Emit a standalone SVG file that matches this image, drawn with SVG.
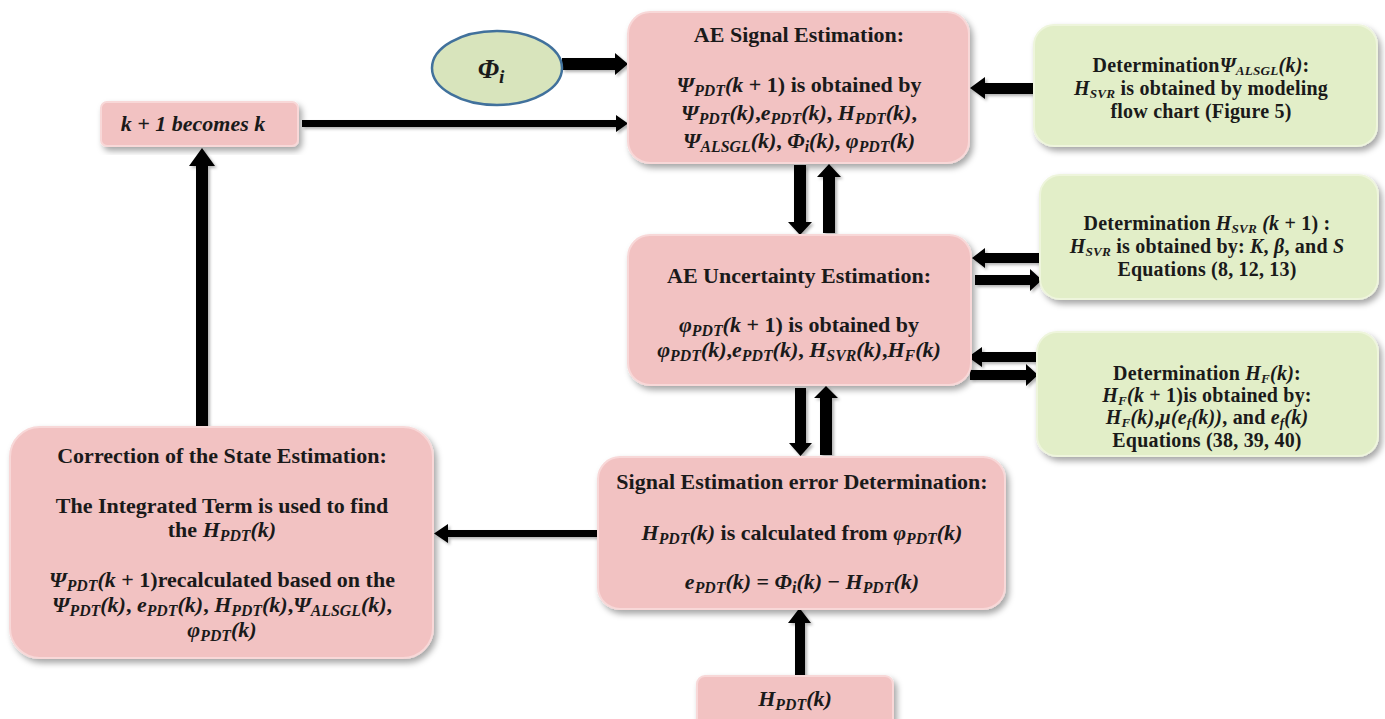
<svg xmlns="http://www.w3.org/2000/svg" width="1385" height="719" viewBox="0 0 1385 719">
<defs>
<filter id="sh" x="-10%" y="-10%" width="125%" height="130%">
<feDropShadow dx="3" dy="4" stdDeviation="3" flood-color="#000" flood-opacity="0.35"/>
</filter>
<filter id="ash" x="-20%" y="-20%" width="150%" height="150%">
<feDropShadow dx="2" dy="2" stdDeviation="1.5" flood-color="#000" flood-opacity="0.3"/>
</filter>
</defs>
<style>
text { font-family: "Liberation Serif", "Times New Roman", serif; font-weight: bold; fill: #1a1a1a; text-anchor: middle; }
.f21 { font-size: 22px; }
.f19 { font-size: 20px; letter-spacing: 0.2px; }
.i { font-style: italic; }
.sb { font-style: italic; font-size: 0.72em; }
.f19 .sb { font-size: 0.66em; }
.pink { fill: #f2c2c2; stroke: #f8d8d8; stroke-width: 2; filter: url(#sh); }
.green { fill: #e2eec8; stroke: #eef5dc; stroke-width: 2; filter: url(#sh); }
.arr { fill: #000; }
</style>
<rect width="1385" height="719" fill="#ffffff"/>

<g id="connectors" filter="url(#ash)">
<polygon class="arr" points="562,58 615,58 615,53 628,64 615,75 615,70 562,70"/>
<polygon class="arr" points="302,120 616,120 616,115 628,123.5 616,132 616,127 302,127"/>
<polygon class="arr" points="1034,83 985,83 985,77 970,88 985,99 985,94 1034,94"/>
<polygon class="arr" points="794,165 806,165 806,222 812,222 800,235 788,222 794,222"/>
<polygon class="arr" points="823,233 835,233 835,177 841,177 829,164 817,177 823,177"/>
<polygon class="arr" points="1040,253 985,253 985,248 972,258 985,268 985,263 1040,263"/>
<polygon class="arr" points="975,275 1030,275 1030,269 1042,280 1030,291 1030,285 975,285"/>
<polygon class="arr" points="1036,352 982,352 982,347 968,357 982,367 982,362 1036,362"/>
<polygon class="arr" points="970,370 1026,370 1026,364 1038,375 1026,386 1026,380 970,380"/>
<polygon class="arr" points="795,388 806,388 806,443 812,443 800.5,456 789,443 795,443"/>
<polygon class="arr" points="820,455 832,455 832,398 838,398 826,386 814,398 820,398"/>
<polygon class="arr" points="597,530 448,530 448,524 434,533.5 448,543 448,537 597,537"/>
<polygon class="arr" points="196,426 196,166 189,166 202,148 215,166 208,166 208,426"/>
<polygon class="arr" points="795,677 795,623 788,623 799.5,608 811,623 805,623 805,677"/>
</g>

<g id="phi-i">
<ellipse cx="497" cy="68" rx="65" ry="37" fill="#d8e4bc" stroke="#41719c" stroke-width="2.5"/>
<text x="491" y="78" style="font-size:27px"><tspan class="i">Φ</tspan><tspan class="sb" dy="5">i</tspan></text>
</g>

<g id="k-becomes">
<rect class="pink" x="101" y="102" width="197" height="44" rx="6"/>
<text x="193" y="131" class="f21 i">k + 1 becomes k</text>
</g>

<g id="ae-signal">
<rect class="pink" x="628" y="12" width="341" height="151" rx="22"/>
<text x="799" y="42" class="f21">AE Signal Estimation:</text>
<text x="799" y="92" class="f21"><tspan class="i">Ψ</tspan><tspan class="sb" dy="4">PDT</tspan><tspan class="i" dy="-4">(k</tspan> + 1) is obtained by</text>
<text x="799" y="120" class="f21"><tspan class="i">Ψ</tspan><tspan class="sb" dy="4">PDT</tspan><tspan class="i" dy="-4">(k)</tspan>,<tspan class="i">e</tspan><tspan class="sb" dy="4">PDT</tspan><tspan class="i" dy="-4">(k)</tspan>, <tspan class="i">H</tspan><tspan class="sb" dy="4">PDT</tspan><tspan class="i" dy="-4">(k)</tspan>,</text>
<text x="799" y="148" class="f21"><tspan class="i">Ψ</tspan><tspan class="sb" dy="4">ALSGL</tspan><tspan class="i" dy="-4">(k)</tspan>, <tspan class="i">Φ</tspan><tspan class="sb" dy="4">i</tspan><tspan class="i" dy="-4">(k)</tspan>,  <tspan class="i">φ</tspan><tspan class="sb" dy="4">PDT</tspan><tspan class="i" dy="-4">(k)</tspan></text>
</g>

<g id="det-psi">
<rect class="green" x="1034" y="25" width="343" height="121" rx="20"/>
<text x="1201" y="72" class="f19">Determination<tspan class="i">Ψ</tspan><tspan class="sb" dy="3">ALSGL</tspan><tspan class="i" dy="-3">(k)</tspan>:</text>
<text x="1201" y="95" class="f19"><tspan class="i">H</tspan><tspan class="sb" dy="3">SVR</tspan><tspan dy="-3"> is obtained by modeling</tspan></text>
<text x="1201" y="118" class="f19">flow chart (Figure 5)</text>
</g>

<g id="ae-uncertainty">
<rect class="pink" x="628" y="235" width="343" height="150" rx="22"/>
<text x="799" y="283" class="f21">AE Uncertainty Estimation:</text>
<text x="799" y="332" class="f21"><tspan class="i">φ</tspan><tspan class="sb" dy="4">PDT</tspan><tspan class="i" dy="-4">(k</tspan> + 1) is obtained by</text>
<text x="799" y="357" class="f21"><tspan class="i">φ</tspan><tspan class="sb" dy="4">PDT</tspan><tspan class="i" dy="-4">(k)</tspan>,<tspan class="i">e</tspan><tspan class="sb" dy="4">PDT</tspan><tspan class="i" dy="-4">(k)</tspan>, <tspan class="i">H</tspan><tspan class="sb" dy="4">SVR</tspan><tspan class="i" dy="-4">(k)</tspan>,<tspan class="i">H</tspan><tspan class="sb" dy="4">F</tspan><tspan class="i" dy="-4">(k)</tspan></text>
</g>

<g id="det-hsvr">
<rect class="green" x="1040" y="175" width="338" height="124" rx="20"/>
<text x="1207" y="230" class="f19">Determination <tspan class="i">H</tspan><tspan class="sb" dy="3">SVR</tspan><tspan class="i" dy="-3">  (k</tspan> + 1) :</text>
<text x="1207" y="253" class="f19"><tspan class="i">H</tspan><tspan class="sb" dy="3">SVR</tspan><tspan dy="-3"> is obtained by: </tspan><tspan class="i">K</tspan>, <tspan class="i">β</tspan>, and <tspan class="i">S</tspan></text>
<text x="1207" y="276" class="f19">Equations (8, 12, 13)</text>
</g>

<g id="det-hf">
<rect class="green" x="1037" y="332" width="341" height="124" rx="20"/>
<text x="1207" y="380" class="f19">Determination <tspan class="i">H</tspan><tspan class="sb" dy="3">F</tspan><tspan class="i" dy="-3">(k)</tspan>:</text>
<text x="1207" y="402" class="f19"><tspan class="i">H</tspan><tspan class="sb" dy="3">F</tspan><tspan class="i" dy="-3">(k</tspan> + 1)is obtained by:</text>
<text x="1207" y="424" class="f19"><tspan class="i">H</tspan><tspan class="sb" dy="3">F</tspan><tspan class="i" dy="-3">(k)</tspan>,<tspan class="i">μ(e</tspan><tspan class="sb" dy="3">f</tspan><tspan class="i" dy="-3">(k))</tspan>, and <tspan class="i">e</tspan><tspan class="sb" dy="3">f</tspan><tspan class="i" dy="-3">(k)</tspan></text>
<text x="1207" y="447" class="f19">Equations (38, 39, 40)</text>
</g>

<g id="error-det">
<rect class="pink" x="598" y="457" width="407" height="152" rx="22"/>
<text x="802" y="489" class="f21">Signal Estimation error Determination:</text>
<text x="802" y="540" class="f21"><tspan class="i">H</tspan><tspan class="sb" dy="4">PDT</tspan><tspan class="i" dy="-4">(k)</tspan> is calculated from <tspan class="i">φ</tspan><tspan class="sb" dy="4">PDT</tspan><tspan class="i" dy="-4">(k)</tspan></text>
<text x="802" y="589" class="f21"><tspan class="i">e</tspan><tspan class="sb" dy="4">PDT</tspan><tspan class="i" dy="-4">(k)</tspan> = <tspan class="i">Φ</tspan><tspan class="sb" dy="4">i</tspan><tspan class="i" dy="-4">(k)</tspan> − <tspan class="i">H</tspan><tspan class="sb" dy="4">PDT</tspan><tspan class="i" dy="-4">(k)</tspan></text>
</g>

<g id="correction">
<rect class="pink" x="10" y="427" width="423" height="231" rx="30"/>
<text x="222" y="463" class="f21">Correction of the State Estimation:</text>
<text x="222" y="513" class="f21">The Integrated Term is used to find</text>
<text x="222" y="537" class="f21">the <tspan class="i">H</tspan><tspan class="sb" dy="4">PDT</tspan><tspan class="i" dy="-4">(k)</tspan></text>
<text x="222" y="587" class="f21"><tspan class="i">Ψ</tspan><tspan class="sb" dy="4">PDT</tspan><tspan class="i" dy="-4">(k</tspan> + 1)recalculated based on the</text>
<text x="222" y="612" class="f21"><tspan class="i">Ψ</tspan><tspan class="sb" dy="4">PDT</tspan><tspan class="i" dy="-4">(k)</tspan>, <tspan class="i">e</tspan><tspan class="sb" dy="4">PDT</tspan><tspan class="i" dy="-4">(k)</tspan>, <tspan class="i">H</tspan><tspan class="sb" dy="4">PDT</tspan><tspan class="i" dy="-4">(k)</tspan>,<tspan class="i">Ψ</tspan><tspan class="sb" dy="4">ALSGL</tspan><tspan class="i" dy="-4">(k)</tspan>,</text>
<text x="222" y="637" class="f21"><tspan class="i">φ</tspan><tspan class="sb" dy="4">PDT</tspan><tspan class="i" dy="-4">(k)</tspan></text>
</g>

<g id="h-pdt">
<rect class="pink" x="697" y="676" width="196" height="56" rx="8"/>
<text x="795" y="706" class="f21"><tspan class="i">H</tspan><tspan class="sb" dy="4">PDT</tspan><tspan class="i" dy="-4">(k)</tspan></text>
</g>
</svg>
